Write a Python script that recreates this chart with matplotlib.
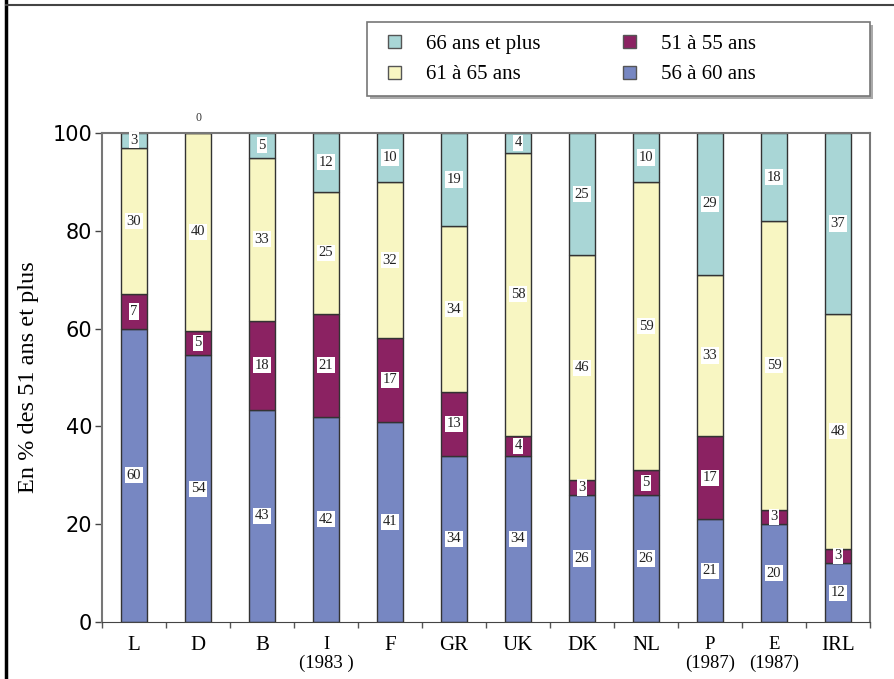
import matplotlib
matplotlib.use('Agg')
import matplotlib.pyplot as plt
import matplotlib.ticker as ticker
from matplotlib.lines import Line2D
from matplotlib.patches import Patch, Rectangle
import numpy as np

# ── Data ─────────────────────────────────────────────────────────────────────
countries = ['L', 'D', 'B', 'I\n(1983 )', 'F', 'GR', 'UK', 'DK', 'NL', 'P\n(1987)', 'E\n(1987)', 'IRL']
age_56_60 = [60, 54, 43, 42, 41, 34, 34, 26, 26, 21, 20, 12]
age_51_55 = [7, 5, 18, 21, 17, 13, 4, 3, 5, 17, 3, 3]
age_61_65 = [30, 40, 33, 25, 32, 34, 58, 46, 59, 33, 59, 48]
age_66_up = [3, 0, 5, 12, 10, 19, 4, 25, 10, 29, 18, 37]

series = [
    ('56 à 60 ans', age_56_60, '#7787c2'),
    ('51 à 55 ans', age_51_55, '#8b2262'),
    ('61 à 65 ans', age_61_65, '#f8f6c2'),
    ('66 ans et plus', age_66_up, '#a9d6d6'),
]

serif = ['Liberation Serif', 'DejaVu Serif']

# bars are drawn rescaled to 100 % (rounded shares may not add up exactly)
totals = np.sum([s[1] for s in series], axis=0).astype(float)
scale = 100.0 / totals

fig = plt.figure(figsize=(8.94, 6.79), dpi=100)
ax = fig.add_axes([102 / 894, 1 - 622 / 679, 768 / 894, 489 / 679])

x = np.arange(len(countries))
width = 0.42
bottom = np.zeros(len(countries))
handles = {}
for name, vals, col in series:
    raw = np.array(vals, dtype=float)
    h = raw * scale
    ax.bar(x, h, width, bottom=bottom, color=col, edgecolor='#333333',
           linewidth=1.0, zorder=2)
    for xi, b, v, r in zip(x, bottom, h, raw):
        if r > 0:
            ax.text(xi, b + v / 2, f'{int(r)}', ha='center', va='center',
                    fontsize=10.5, family=serif, color='#222222', zorder=4,
                    bbox=dict(facecolor='white', edgecolor='none', pad=1.2))
    handles[name] = Patch(facecolor=col, edgecolor='#555555')
    bottom += h

# zero value drawn above the bar
for xi, v, tot in zip(x, age_66_up, bottom):
    if v == 0:
        ax.text(xi, tot + 3, '0', ha='center', va='center', fontsize=8.5,
                family=serif, color='#333333')

ax.set_xlim(-0.5, 11.5)
ax.set_ylim(0, 100)
ax.set_yticks([0, 20, 40, 60, 80, 100])
ax.tick_params(axis='y', length=5, width=1, labelsize=15, color='#444444', pad=2)
ax.yaxis.set_major_formatter(ticker.FuncFormatter(lambda v, _: f'{int(v)}'))

# boundary ticks without labels, centered labels without ticks
ax.set_xticks(np.arange(-0.5, 12, 1.0))
ax.set_xticklabels([])
ax.tick_params(axis='x', which='major', length=4, width=1, color='#555555')
ax.set_xticks(x, minor=True)
ax.set_xticklabels(countries, minor=True, family=serif, fontsize=15,
                   linespacing=1.15)
ax.tick_params(axis='x', which='minor', length=0, pad=10)
for lab in ax.get_xticklabels(minor=True):
    if '\n' in lab.get_text():
        lab.set_fontsize(13.5)

for s in ['top', 'right', 'left']:
    ax.spines[s].set_color('#777777')
    ax.spines[s].set_linewidth(1.5)
ax.spines['bottom'].set_color('#444444')

ax.set_ylabel('En % des 51 ans et plus', family=serif, fontsize=17.5, labelpad=10)

# legend box (frame drawn separately so it can be as wide as the original)
W, H = 894.0, 679.0
fig.add_artist(Rectangle((370 / W, 1 - 99 / H), 503 / W, 74 / H,
                         transform=fig.transFigure, facecolor='#aaaaaa',
                         edgecolor='none', zorder=5))
fig.add_artist(Rectangle((367 / W, 1 - 96 / H), 503 / W, 74 / H,
                         transform=fig.transFigure, facecolor='white',
                         edgecolor='#777777', lw=1.2, zorder=6))
order = ['66 ans et plus', '61 à 65 ans', '51 à 55 ans', '56 à 60 ans']
leg = fig.legend([handles[k] for k in order], order, ncol=2,
                 loc='upper left', bbox_to_anchor=(388 / W, 1 - 35 / H),
                 prop={'family': serif, 'size': 15}, frameon=False,
                 handlelength=0.6, handleheight=0.6, columnspacing=4.0,
                 borderpad=0, labelspacing=0.55, handletextpad=1.2,
                 borderaxespad=0)
leg.set_zorder(7)

# outer frame lines
fig.add_artist(Line2D([6 / W, 6 / W], [0, 1], color='black', lw=2.5))
fig.add_artist(Line2D([6 / W, 1], [1 - 5 / H, 1 - 5 / H], color='#444444', lw=1.5))

fig.savefig('out.png', dpi=100)
